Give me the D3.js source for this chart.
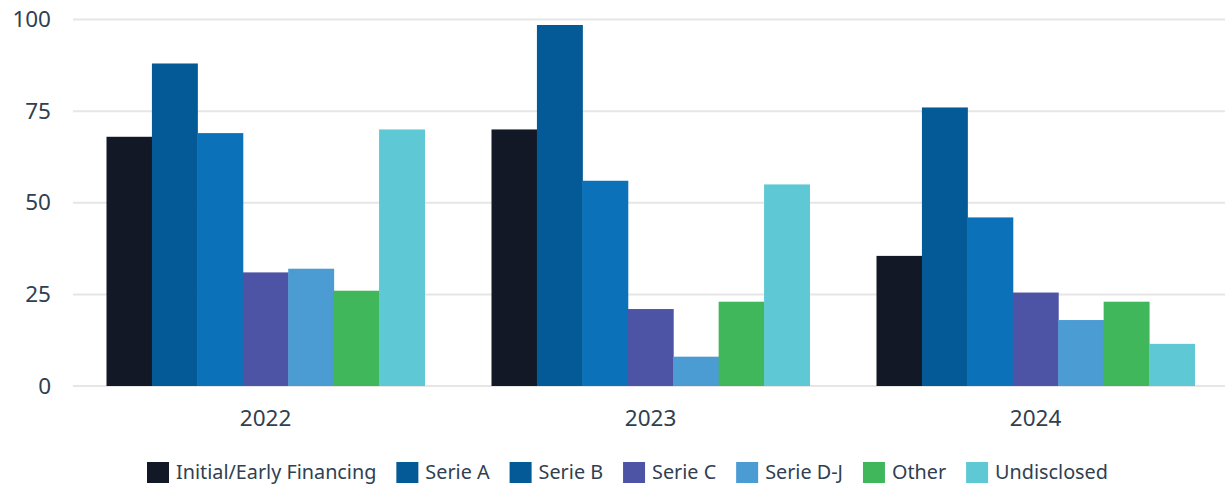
<!DOCTYPE html>
<html>
<head>
<meta charset="utf-8">
<script src="https://cdn.jsdelivr.net/npm/d3@7"></script>
<style>
  body { margin: 0; background: #fff; }
  svg { display: block; font-family: "Noto Sans", sans-serif; }
</style>
</head>
<body>
<svg id="chart" width="1225" height="484"></svg>
<script>
const years = ["2022", "2023", "2024"]
const seriesNames = ["Initial/Early Financing", "Serie A", "Serie B", "Serie C", "Serie D-J", "Other", "Undisclosed"]
const initialEarly = [68, 70, 35.5]
const serieA = [88, 98.5, 76]
const serieB = [69, 56, 46]
const serieC = [31, 21, 25.5]
const serieDJ = [32, 8, 18]
const other = [26, 23, 23]
const undisclosed = [70, 55, 11.5]
const yTicks = [0, 25, 50, 75, 100]

const barColors = ["#121826", "#035a96", "#0b72ba", "#4d54a5", "#4c9cd4", "#41b75c", "#5fc8d5"]
// legend swatch for Serie B uses the Serie A tone in the original
const legendColors = ["#121826", "#035a96", "#035a96", "#4d54a5", "#4c9cd4", "#41b75c", "#5fc8d5"]

const values = [initialEarly, serieA, serieB, serieC, serieDJ, other, undisclosed]
const data = years.map((year, i) => {
  const row = { year }
  seriesNames.forEach((s, j) => { row[s] = values[j][i] })
  return row
})

const svg = d3.select("#chart")
const textColor = "#2f4051"

const x0 = d3.scaleBand()
  .domain(years)
  .range([73, 1228])
  .paddingInner(0.174)
  .paddingOuter(0.087)

const x1 = d3.scaleBand()
  .domain(seriesNames)
  .range([0, x0.bandwidth()])
  .padding(0)

const y = d3.scaleLinear()
  .domain([0, 100])
  .range([386, 19.5])

// Gridlines
svg.append("g")
  .selectAll("line")
  .data(yTicks)
  .join("line")
  .attr("x1", 73)
  .attr("x2", 1225)
  .attr("y1", d => y(d))
  .attr("y2", d => y(d))
  .attr("stroke", "#e6e6e6")
  .attr("stroke-width", 2)

// Y axis labels
const yAxis = svg.append("g")
  .attr("transform", "translate(51,0)")
  .call(d3.axisLeft(y).tickValues(yTicks).tickSize(0).tickPadding(0))
yAxis.select(".domain").remove()
yAxis.selectAll("text")
  .attr("font-family", "Noto Sans")
  .attr("font-size", 22.5)
  .attr("fill", textColor)

// Bars
svg.append("g")
  .selectAll("g")
  .data(data)
  .join("g")
  .attr("transform", d => `translate(${x0(d.year)},0)`)
  .selectAll("rect")
  .data(d => seriesNames.map((s, j) => ({ key: s, value: d[s], color: barColors[j] })))
  .join("rect")
  .attr("x", d => x1(d.key))
  .attr("width", x1.bandwidth() + 0.5)
  .attr("y", d => y(d.value))
  .attr("height", d => y(0) - y(d.value))
  .attr("fill", d => d.color)

// X axis labels
const xAxis = svg.append("g")
  .attr("transform", "translate(0,410)")
  .call(d3.axisBottom(x0).tickSize(0).tickPadding(0))
xAxis.select(".domain").remove()
xAxis.selectAll("text")
  .attr("font-family", "Noto Sans")
  .attr("font-size", 22.5)
  .attr("fill", textColor)

// Legend
const legend = svg.append("g").attr("transform", "translate(147,462)")
let lx = 0
seriesNames.forEach((name, i) => {
  const item = legend.append("g").attr("transform", `translate(${lx},0)`)
  item.append("rect")
    .attr("width", 22)
    .attr("height", 21)
    .attr("fill", legendColors[i])
  const t = item.append("text")
    .attr("x", 29)
    .attr("y", 17)
    .attr("font-size", 19.8)
    .attr("fill", textColor)
    .text(name)
  lx += 29 + t.node().getComputedTextLength() + 20
})
</script>
</body>
</html>
